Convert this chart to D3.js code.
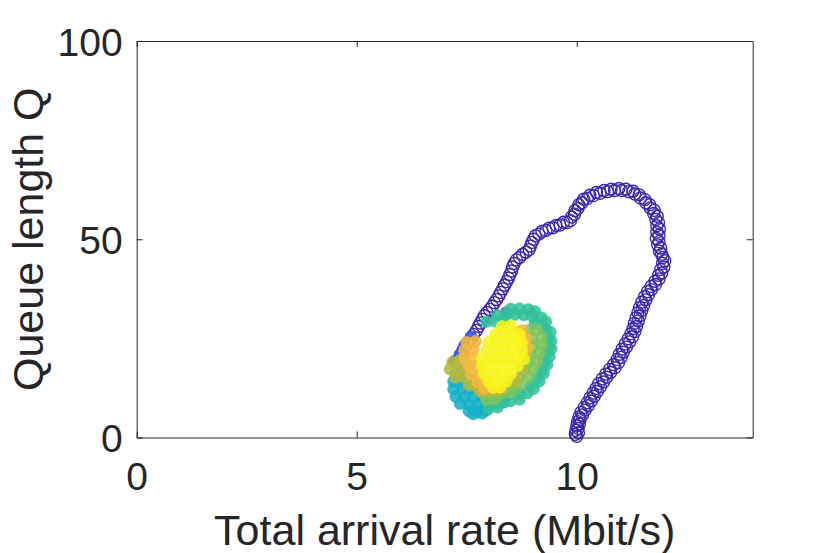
<!DOCTYPE html>
<html lang="en">
<head>
<meta charset="UTF-8">
<title>Queue length vs arrival rate</title>
<style>
  body { margin: 0; background: #fff; }
  svg text { font-family: "Liberation Sans", Arial, Helvetica, sans-serif; fill: #262626; }
</style>
</head>
<body>
<script src="https://cdn.jsdelivr.net/npm/d3@7"></script>
<script>
const svg_w = 830;
const svg_h = 553;

const x_ticks = [0, 5, 10];
const y_ticks = [0, 50, 100];
const x_label = 'Total arrival rate (Mbit/s)';
const y_label = 'Queue length Q';

// colour stops (parula-like), position in time 0..1
const color_pos = [0, 0.125, 0.25, 0.375, 0.5, 0.625, 0.75, 0.875, 1];
const color_stops = ['#3c27ad', '#4352ea', '#2a8de6', '#15b1c9', '#33c29a', '#80c45c', '#b6ba3c', '#f4b83d', '#f8f41c'];

// start-up transient: [rate, Q]
const transient = [
    [10.0, 0.3], [9.97, 0.8], [10.04, 1.2], [9.98, 1.8], [10.03, 2.3], [10.0, 2.9], [10.06, 3.4],
    [10.02, 4.0], [10.08, 4.6], [10.05, 5.2], [10.13, 5.7], [10.1, 6.4], [10.19, 6.9], [10.17, 7.6],
    [10.26, 8.0], [10.24, 8.8], [10.33, 9.2], [10.3, 10.0], [10.4, 10.4], [10.37, 11.2], [10.47, 11.6],
    [10.44, 12.4], [10.54, 12.8], [10.5, 13.6], [10.61, 14.0], [10.58, 14.8], [10.68, 15.2], [10.66, 16.0],
    [10.77, 16.4], [10.75, 17.2], [10.87, 17.6], [10.84, 18.4], [10.95, 18.9], [10.92, 19.7], [11.01, 20.2],
    [10.97, 21.0], [11.06, 21.5], [11.03, 22.3], [11.13, 22.8], [11.1, 23.6], [11.2, 24.1], [11.17, 24.9],
    [11.27, 25.4], [11.23, 26.2], [11.32, 26.7], [11.28, 27.5], [11.36, 28.0], [11.31, 28.8], [11.4, 29.4],
    [11.35, 30.2], [11.44, 30.7], [11.39, 31.5], [11.48, 32.0], [11.43, 32.8], [11.52, 33.3], [11.48, 34.1],
    [11.57, 34.7], [11.54, 35.5], [11.63, 36.0], [11.61, 36.8], [11.7, 37.3], [11.69, 38.1], [11.79, 38.6],
    [11.78, 39.4], [11.87, 40.0], [11.86, 40.9], [11.93, 41.5], [11.91, 42.4], [11.98, 43.0], [11.95, 43.9],
    [12.0, 44.6], [11.96, 45.4], [11.93, 46.2], [11.88, 47.0], [11.91, 47.8], [11.84, 48.6], [11.87, 49.4],
    [11.81, 50.2], [11.87, 51.0], [11.82, 51.8], [11.88, 52.6], [11.82, 53.4], [11.86, 54.2], [11.8, 55.0],
    [11.83, 55.8], [11.75, 56.5], [11.76, 57.3], [11.67, 57.9], [11.66, 58.7], [11.57, 59.2], [11.55, 60.0],
    [11.45, 60.4], [11.42, 61.2], [11.32, 61.4], [11.28, 62.1], [11.18, 62.0], [11.12, 62.6], [11.02, 62.3],
    [10.96, 62.8], [10.86, 62.3], [10.78, 62.6], [10.7, 62.0], [10.62, 62.3], [10.53, 61.6], [10.45, 61.8],
    [10.38, 61.0], [10.3, 61.1], [10.24, 60.3], [10.16, 60.1], [10.12, 59.2], [10.05, 58.7], [10.03, 57.8],
    [9.96, 57.2], [9.95, 56.3], [9.88, 55.6], [9.86, 54.7], [9.78, 54.2], [9.7, 54.3], [9.62, 53.6],
    [9.53, 53.5], [9.46, 52.9], [9.37, 52.8], [9.3, 52.2], [9.21, 52.0], [9.14, 51.3], [9.06, 50.9],
    [9.02, 50.0], [8.98, 49.2], [8.95, 48.3], [8.92, 47.4], [8.85, 46.8], [8.77, 46.2], [8.7, 45.4],
    [8.63, 44.8], [8.58, 43.9], [8.54, 43.0], [8.52, 42.0], [8.48, 41.1], [8.45, 40.2], [8.41, 39.3],
    [8.36, 38.4], [8.32, 37.5], [8.27, 36.6], [8.23, 35.7], [8.18, 34.8], [8.13, 34.0], [8.08, 33.1],
    [8.02, 32.3], [7.96, 31.5], [7.9, 30.7], [7.86, 29.8], [7.81, 28.9], [7.77, 28.0], [7.72, 27.0],
    [7.66, 26.0], [7.6, 25.0], [7.53, 24.0], [7.47, 23.0], [7.42, 22.0], [7.37, 21.0], [7.33, 20.0],
    [7.3, 19.0]
];

// steady-state cloud, one list per stretch of time
const blue_pts = [[7.35, 21.0], [7.22, 19.2], [7.6, 25.5], [7.45, 23.2], [8.4, 31.5]];
const cyan_pts = [
    [7.65, 5.9], [7.85, 6.1], [7.55, 6.7], [7.75, 6.7], [7.95, 6.9],
    [7.35, 8.5], [7.55, 8.3], [7.75, 8.3], [7.95, 8.5], [8.15, 8.6], [8.35, 8.9],
    [7.25, 10.3], [7.45, 10.2], [7.65, 10.2], [7.85, 10.3], [8.05, 10.5], [8.25, 10.6], [8.45, 10.8],
    [7.2, 12.2], [7.4, 12.2], [7.6, 12.3], [7.8, 12.4], [8.0, 12.6],
    [7.2, 14.1], [7.4, 14.2], [7.6, 14.4], [7.25, 16.0], [7.45, 16.2]
];
const teal_pts = [
    [8.5, 32.4], [8.7, 32.5], [8.9, 32.3], [9.05, 31.8],
    [8.2, 30.8], [8.4, 31.0], [8.6, 31.0], [8.8, 30.9], [9.0, 30.6], [9.2, 30.2], [9.3, 29.2],
    [7.95, 29.2], [8.15, 29.3], [8.35, 29.3], [9.05, 28.9], [9.2, 28.3],
    [9.3, 27.0], [9.4, 26.6], [9.35, 25.0], [9.42, 24.4], [9.35, 23.0], [9.42, 22.4],
    [9.3, 21.0], [9.38, 20.4], [9.25, 19.0], [9.33, 18.4], [9.2, 17.0], [9.25, 16.2],
    [9.1, 15.0], [9.15, 14.2], [8.95, 13.0], [9.02, 12.3], [8.7, 11.0], [8.88, 11.2],
    [8.3, 9.0], [8.5, 9.2], [8.7, 9.6], [8.0, 7.3], [8.2, 7.6]
];
const green_pts = [
    [8.9, 27.0], [9.1, 27.2], [9.0, 25.0], [9.2, 25.3], [9.02, 23.0], [9.2, 23.2],
    [8.95, 21.0], [9.15, 21.3], [8.9, 19.0], [9.1, 19.3], [8.8, 17.0], [9.0, 17.3],
    [8.7, 15.0], [8.9, 15.3], [8.5, 13.0], [8.7, 13.2],
    [7.9, 11.0], [8.1, 11.1], [8.3, 11.2], [8.5, 11.4], [7.95, 9.6], [8.15, 9.7]
];
const olive_pts = [
    [7.18, 19.0], [7.35, 19.5], [7.12, 17.2], [7.3, 17.2], [7.5, 17.4],
    [7.25, 15.2], [7.45, 15.3], [7.55, 13.3], [7.72, 13.2],
    [7.8, 11.7], [8.0, 11.8], [8.2, 11.9], [8.8, 21.0], [8.75, 17.3], [8.6, 14.3]
];
const orange_pts = [
    [7.5, 24.0], [7.7, 24.3], [7.45, 22.0], [7.65, 22.2], [7.45, 20.0], [7.65, 20.1],
    [7.55, 18.0], [7.75, 18.1], [7.6, 16.0], [7.8, 16.1], [7.75, 14.0], [7.95, 14.1],
    [7.9, 12.3], [8.1, 12.4], [8.3, 12.6], [8.75, 27.0], [8.85, 25.0], [8.88, 22.5]
];
const yellow_pts = [
    [8.3, 28.0], [8.5, 28.2],
    [8.15, 26.0], [8.35, 26.2], [8.55, 26.3], [8.7, 26.0],
    [8.0, 24.0], [8.2, 24.1], [8.4, 24.2], [8.6, 24.2], [8.75, 23.9],
    [7.95, 22.0], [8.15, 22.1], [8.35, 22.1], [8.55, 22.2], [8.75, 22.0],
    [7.85, 20.0], [8.05, 20.0], [8.25, 20.1], [8.45, 20.1], [8.65, 20.0], [8.8, 19.8],
    [7.85, 18.0], [8.05, 18.0], [8.25, 18.1], [8.45, 18.1], [8.65, 18.0],
    [7.9, 16.0], [8.1, 16.0], [8.3, 16.1], [8.5, 16.0],
    [8.0, 14.0], [8.2, 14.1], [8.4, 14.2], [8.1, 12.6], [8.25, 12.7]
];

// time position of each list (drawn in this order)
const groups = [
    { pts: transient, t: 0, filled: false },
    { pts: blue_pts, t: 0.15, filled: true },
    { pts: cyan_pts, t: 0.375, filled: true },
    { pts: teal_pts, t: 0.5, filled: true },
    { pts: green_pts, t: 0.625, filled: true },
    { pts: olive_pts, t: 0.75, filled: true },
    { pts: orange_pts, t: 0.875, filled: true },
    { pts: yellow_pts, t: 1, filled: true }
];

const plot_l = 136.7, plot_r = 752.7, plot_t = 41, plot_b = 437.5;

const x = d3.scaleLinear().domain([0, 14]).range([plot_l, plot_r]);
const y = d3.scaleLinear().domain([0, 100]).range([plot_b, plot_t]);
const color = d3.scaleLinear().domain(color_pos).range(color_stops);

const svg = d3.select('body')
    .append('svg')
    .attr('width', svg_w)
    .attr('height', svg_h);

// markers
groups.forEach(g => {
    svg.append('g')
        .selectAll('circle')
        .data(g.pts)
        .enter()
        .append('circle')
        .attr('cx', d => x(d[0]))
        .attr('cy', d => y(d[1]))
        .attr('r', 6)
        .attr('fill', g.filled ? color(g.t) : 'none')
        .attr('fill-opacity', 0.88)
        .attr('stroke', color(g.t))
        .attr('stroke-opacity', g.filled ? 0.5 : 1)
        .attr('stroke-width', g.filled ? 0.8 : 1.35);
});

// axes, ticks pointing inward
const styleAxis = sel => {
    sel.select('.domain').attr('stroke', '#262626');
    sel.selectAll('.tick line').attr('stroke', '#262626');
    sel.selectAll('text').style('font-size', '39px').attr('fill', '#262626');
};

svg.append('g')
    .attr('transform', `translate(0,${plot_b})`)
    .call(d3.axisBottom(x).tickValues(x_ticks).tickSizeInner(-6).tickSizeOuter(0))
    .call(styleAxis)
    .call(g => g.selectAll('text').attr('y', 52).attr('dy', null));

svg.append('g')
    .attr('transform', `translate(0,${plot_t})`)
    .call(d3.axisTop(x).tickValues(x_ticks).tickSizeInner(-6).tickSizeOuter(0).tickFormat(''))
    .call(styleAxis);

svg.append('g')
    .attr('transform', `translate(${plot_l},0)`)
    .call(d3.axisLeft(y).tickValues(y_ticks).tickSizeInner(-6).tickSizeOuter(0))
    .call(styleAxis)
    .call(g => g.selectAll('text').attr('x', -14).attr('dy', '0.37em'));

svg.append('g')
    .attr('transform', `translate(${plot_r},0)`)
    .call(d3.axisRight(y).tickValues(y_ticks).tickSizeInner(-6).tickSizeOuter(0).tickFormat(''))
    .call(styleAxis);

// labels
svg.append('text')
    .text(x_label)
    .attr('x', (plot_l + plot_r) / 2)
    .attr('y', 545)
    .attr('text-anchor', 'middle')
    .attr('font-size', '43px');

svg.append('text')
    .text(y_label)
    .attr('transform', `translate(43,${(plot_t + plot_b) / 2}) rotate(-90)`)
    .attr('text-anchor', 'middle')
    .attr('font-size', '43px');
</script>
</body>
</html>
